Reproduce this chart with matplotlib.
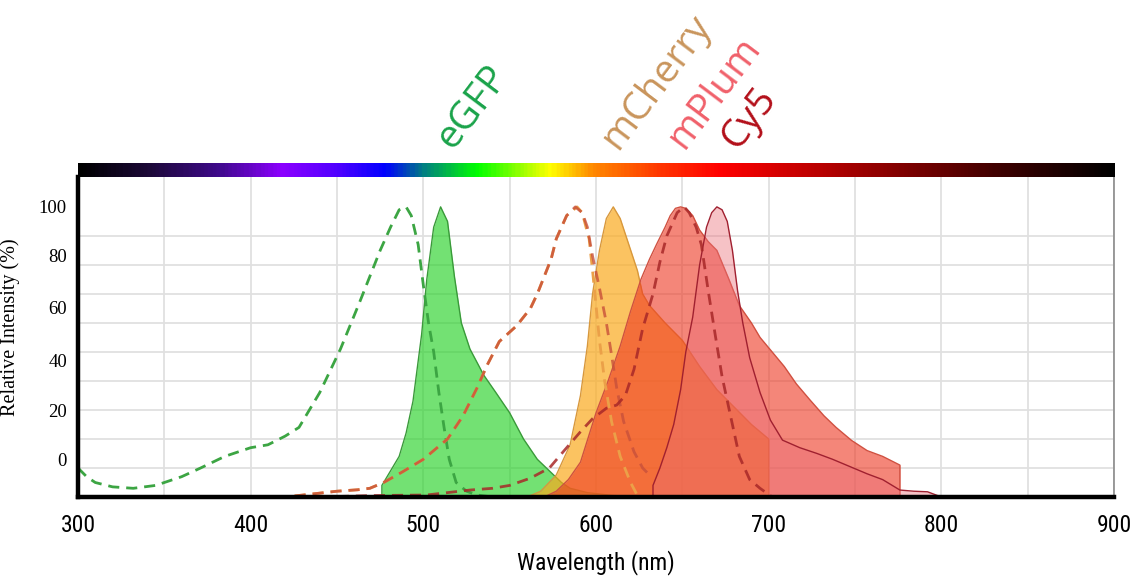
import numpy as np
import matplotlib
matplotlib.use("Agg")
import matplotlib.pyplot as plt
from matplotlib import font_manager
from matplotlib.colors import LinearSegmentedColormap

# fluorophore spectra (wavelength nm, relative intensity %)
egfp_ex_nm = [300, 305, 310, 320, 332, 345, 360, 371, 385, 400, 410, 420, 428, 440, 452, 463, 469,
              475, 481, 486, 490, 493, 497, 500, 503, 506, 509, 512, 515, 519, 525, 531, 540]
egfp_ex = [10, 7, 5, 3.5, 3, 4, 7, 10, 14, 17, 18, 21, 24, 36, 51, 67, 76,
           85, 93, 99, 100, 97, 87, 73, 60, 50, 36, 24, 13, 5, 2, 0.7, 0]

egfp_em_nm = [476, 476, 480, 486, 490, 494, 499, 502, 506, 510, 514, 518, 522, 527, 535, 542,
              550, 558, 566, 573, 580, 585, 595, 610, 630]
egfp_em = [0, 4, 8, 14, 22, 33, 56, 75, 93, 100, 95, 76, 60, 51, 42, 36,
           29, 20, 13, 9, 5, 3, 1.5, 0.5, 0]

mcherry_ex_nm = [300, 420, 435, 450, 462, 469, 477, 488, 500, 514, 523, 531, 537, 544, 554, 562,
                 566, 570, 574, 577, 583, 589, 592, 596, 598, 600, 602, 605, 609, 614, 620, 624]
mcherry_ex = [0, 0, 1, 2, 2.5, 3, 5, 8.7, 13, 20, 28, 37.5, 45.5, 53.6, 59, 65,
              70, 76, 82, 89, 97, 100, 98, 89, 78, 66, 54, 40, 26, 14, 5, 0.5]

mcherry_em_nm = [560, 568, 577, 585, 591, 595, 598, 602, 606, 610, 614, 619, 624, 627, 631,
                 640, 650, 660, 670, 680, 690, 700, 700]
mcherry_em = [0, 2, 7.6, 18, 35, 52, 70, 85, 96, 100, 96, 87, 78, 70, 66,
              60, 54, 45, 37, 31, 25, 20, 0]

mplum_ex_nm = [300, 420, 435, 450, 462, 469, 477, 488, 500, 514, 523, 531, 537, 544, 554, 562,
               566, 570, 574, 577, 583, 588, 592, 595, 598, 602, 606, 609, 612, 616, 622, 627, 631]
mplum_ex = [0, 0, 1, 2, 2.5, 3, 5, 8.7, 13, 20, 28, 37.5, 45.5, 53.6, 59, 65,
            70, 76, 82, 89, 97, 100, 98, 93, 83, 72, 60, 49, 37.5, 26, 15.6, 10, 7.6]

mplum_em_nm = [570, 577, 584, 591, 600, 607, 614, 620, 626, 631, 635, 640, 643, 646, 649, 652,
               656, 660, 665, 670, 677, 683, 690, 695, 702, 709, 716, 724, 732, 739, 748, 757,
               766, 776, 776]
mplum_em = [0, 2, 6, 12, 29, 40, 52, 64, 75, 82, 87, 93, 97, 99.5, 100, 99.5,
            97, 92, 88, 85, 75, 66, 60, 55, 50, 45, 39, 33.4, 28, 24, 19.5, 16,
            14, 11, 0]

cy5_ex_nm = [440, 470, 502, 527, 540, 550, 562, 573, 581, 591, 598, 606, 612, 617, 622, 627,
             633, 637, 641, 647, 651, 654, 658, 661, 665, 669, 673, 678, 683, 689, 695, 702]
cy5_ex = [0, 0.5, 0.7, 2.4, 3, 4, 6.5, 10, 15.6, 22.5, 27, 30.6, 31.7, 35, 44, 58,
          70, 81, 90, 98, 100, 98, 93, 87, 71, 56, 41.5, 27.7, 14, 6, 3, 0]

cy5_em_nm = [633, 633, 637, 641, 645, 649, 652, 656, 660, 664, 667, 670, 673, 676, 679, 682,
             685, 689, 695, 701, 708, 718, 728, 737, 747, 757, 766, 776, 784, 792, 800]
cy5_em = [0, 4, 10, 17, 25, 37, 50, 62, 80, 93, 98, 100, 99, 95, 85, 71,
          60, 48, 36, 26.5, 19.6, 17, 15, 13, 10.5, 8, 6, 2.4, 2, 1.8, 0]

dye_names = ["eGFP", "mCherry", "mPlum", "Cy5"]
dye_colors = ["#1aa34a", "#c9955c", "#f0606a", "#b3101a"]

xtick_vals = [300, 400, 500, 600, 700, 800, 900]
ytick_labels = ["0", "20", "40", "60", "80", "100"]

# fonts: prefer a narrow sans for the x axis if one is around
installed = {f.name for f in font_manager.fontManager.ttflist}
narrow = "Liberation Sans"
for cand in ["Liberation Sans Narrow", "Arial Narrow", "Roboto Condensed", "Open Sans Condensed"]:
    if cand in installed:
        narrow = cand
        break
tick_size = 17 if narrow != "Liberation Sans" else 15

fig = plt.figure(figsize=(11.37, 5.79), dpi=100)
ax = fig.add_axes([0.0686, 0.1416, 0.9112, 0.5527])
bar_ax = fig.add_axes([0.0686, 0.6943, 0.9112, 0.0242])

# filled emission spectra
ax.fill_between(egfp_em_nm, 0, egfp_em, color="#28d228", alpha=0.65, lw=0, zorder=2)
ax.plot(egfp_em_nm, egfp_em, color="#3a9a3a", lw=1, zorder=2)
ax.fill_between(mcherry_em_nm, 0, mcherry_em, color="#faaa1e", alpha=0.7, lw=0, zorder=2)
ax.plot(mcherry_em_nm, mcherry_em, color="#d8983c", lw=1, zorder=2)
ax.fill_between(mplum_em_nm, 0, mplum_em, color="#ee3620", alpha=0.6, lw=0, zorder=2)
ax.plot(mplum_em_nm, mplum_em, color="#d05040", lw=1, zorder=2)
ax.fill_between(cy5_em_nm, 0, cy5_em, color="#eb6e78", alpha=0.42, lw=0, zorder=2)
ax.plot(cy5_em_nm, cy5_em, color="#a02030", lw=1, zorder=2)

# dashed excitation spectra
dash = (4, 2.5)
ax.plot(egfp_ex_nm, egfp_ex, color="#3ca543", lw=2, dashes=dash, zorder=3)
ax.plot(mcherry_ex_nm, mcherry_ex, color="#eba048", lw=2, dashes=dash, zorder=3)
ax.plot(mplum_ex_nm, mplum_ex, color="#c8503a", lw=2, dashes=dash, alpha=0.8, zorder=3)
ax.plot(cy5_ex_nm, cy5_ex, color="#a82828", lw=2, dashes=dash, alpha=0.85, zorder=3)

ax.set_xlim(300, 900)
ax.set_ylim(0, 110.3)
ax.set_xticks(xtick_vals)
ax.set_xticklabels([str(v) for v in xtick_vals], family=narrow, fontsize=tick_size)
ax.set_xticks(np.arange(350, 900, 100), minor=True)
ax.set_yticks([12.8, 29.7, 46.9, 65.2, 83.1, 100])
ax.set_yticklabels(ytick_labels, family="Liberation Serif", fontsize=13.5)
ax.set_yticks(np.arange(10, 110, 10), minor=True)
ax.tick_params(which="both", length=0)
ax.tick_params(axis="x", pad=12)
ax.tick_params(axis="y", pad=8)
ax.grid(which="both", axis="x", color="#e0e0e0", lw=1.3, zorder=0)
ax.grid(which="minor", axis="y", color="#e0e0e0", lw=1.3, zorder=0)
ax.set_axisbelow(True)

for side in ["left", "bottom"]:
    ax.spines[side].set_linewidth(3.2)
    ax.spines[side].set_color("black")
    ax.spines[side].set_zorder(5)
ax.spines["right"].set_color("#8a8a8a")
ax.spines["right"].set_linewidth(1.2)
ax.spines["top"].set_visible(False)

ax.set_xlabel("Wavelength (nm)", family=narrow, fontsize=tick_size)
ax.xaxis.set_label_coords(0.5, -0.165)
ax.set_ylabel("Relative Intensity (%)", family="Liberation Serif", fontsize=14.5)
ax.yaxis.set_label_coords(-0.056, 0.53)

# spectrum colour bar along the top
spec_nm = [300, 340, 380, 417, 450, 477, 500, 531, 573, 598, 640, 672, 707, 778, 836, 900]
spec_col = ["#000000", "#1c0838", "#3e0a8a", "#8c00ff", "#4e00ff", "#0000ff", "#008080",
            "#00ff00", "#ffff00", "#ff8800", "#ff3000", "#ff0000", "#d40000", "#800000",
            "#3c0000", "#000000"]
spec_pos = [(v - 300) / 600 for v in spec_nm]
cmap = LinearSegmentedColormap.from_list("spectrum", list(zip(spec_pos, spec_col)))
bar_ax.imshow(np.linspace(0, 1, 600)[None, :], aspect="auto", cmap=cmap,
              extent=[300, 900, 0, 1])
bar_ax.set_axis_off()

# dye names above the bar
label_nm = [517, 612.5, 651, 682]
for name, col, x in zip(dye_names, dye_colors, label_nm):
    ax.text(x, 119.5, name, color=col, fontsize=28, family="Open Sans",
            rotation=53, rotation_mode="anchor", ha="left", va="baseline", clip_on=False)

fig.savefig("out.png", dpi=100)
